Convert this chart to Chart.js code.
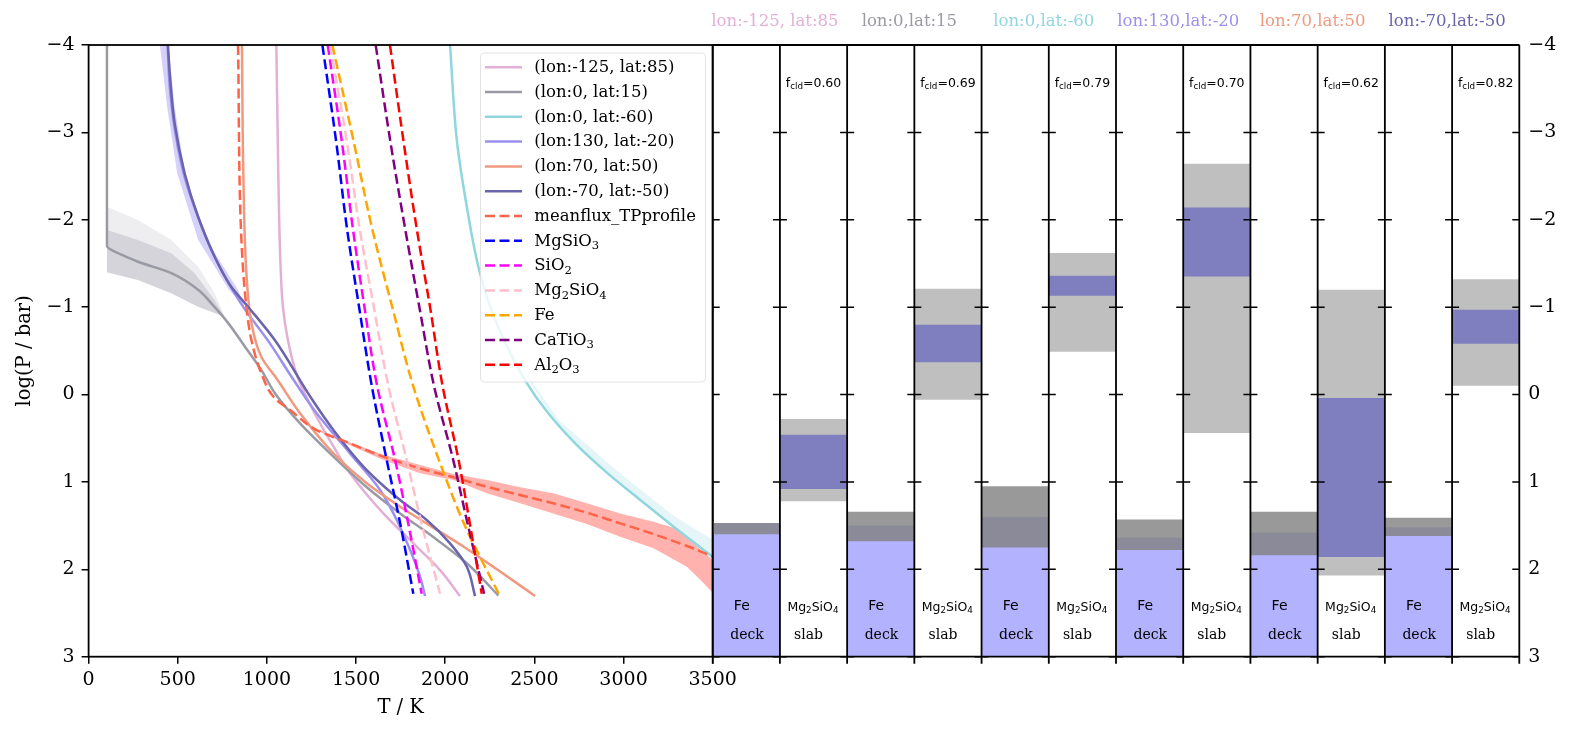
<!DOCTYPE html>
<html>
<head>
<meta charset="utf-8">
<script src="https://cdn.jsdelivr.net/npm/chart.js@4.4.1/dist/chart.umd.min.js"></script>
<style>
  html, body { margin: 0; padding: 0; background: #fff; }
  #wrap { position: relative; width: 1573px; height: 736px; overflow: hidden; }
  canvas { position: absolute; top: 0; }
  #tp { left: 0; }
  #cl { left: 700px; }
</style>
</head>
<body>
<div id="wrap">
  <canvas id="tp" width="780" height="736"></canvas>
  <canvas id="cl" width="873" height="736"></canvas>
</div>
<script>
// T-P profiles (left) and cloud deck / slab ranges (right)
const SERIF = 'DejaVu Serif';
const SANS = 'DejaVu Sans';

// Locations
const locLabels = ['(lon:-125, lat:85)', '(lon:0, lat:15)', '(lon:0, lat:-60)',
                   '(lon:130, lat:-20)', '(lon:70, lat:50)', '(lon:-70, lat:-50)'];
const topLabels = ['lon:-125, lat:85', 'lon:0,lat:15', 'lon:0,lat:-60',
                   'lon:130,lat:-20', 'lon:70,lat:50', 'lon:-70,lat:-50'];
const locColors = ['#e2b0d6', '#9a9aa4', '#8fd6de', '#9b90ee', '#ef9a80', '#6a64ac'];

// Profiles: log(P / bar) and T / K
const prof0P = [-4, -2.5, -1.5, -1.0, -0.62, -0.24, 0.0, 0.3, 0.6, 0.9, 1.36, 1.74, 2.01, 2.306];
const prof0T = [1053, 1064, 1076, 1090, 1118, 1165, 1215, 1290, 1375, 1466, 1653, 1840, 1971, 2083];

const prof1P = [-4, -1.70, -1.60, -1.52, -1.39, -1.20, -1.00, -0.82, -0.55, -0.28, 0.0, 0.33, 0.71, 1.06, 1.36, 1.63, 1.93, 2.30];
const prof1T = [103, 103, 184, 277, 464, 614, 707, 782, 876, 969, 1050, 1186, 1373, 1560, 1747, 1933, 2121, 2298];

const prof2P = [-4, -2.913, -2.15, -1.388, -0.815, -0.166, 0.215, 0.597, 0.902, 1.207, 1.513, 1.894];
const prof2T = [2027, 2065, 2121, 2195, 2288, 2447, 2578, 2747, 2911, 3094, 3281, 3524];

const prof3P = [-4, -3.5, -3.0, -2.5, -2.0, -1.5, -1.0, -0.6, -0.166, 0.215, 0.673, 1.09, 1.436, 1.78, 2.085, 2.306];
const prof3T = [443, 456, 486, 537, 620, 725, 868, 1012, 1150, 1279, 1466, 1634, 1728, 1803, 1859, 1887];

const prof4P = [-4, -2.5, -1.39, -0.82, -0.43, -0.166, 0.215, 0.673, 1.016, 1.284, 1.50, 1.75, 2.0, 2.306];
const prof4T = [860, 868, 885, 913, 969, 1060, 1186, 1373, 1560, 1747, 1915, 2110, 2290, 2504];

const prof5P = [-4, -3.68, -3.10, -2.53, -2.035, -1.577, -1.234, -1.005, -0.624, 0.043, 0.406, 0.864, 1.207, 1.436, 1.703, 1.97, 2.306];
const prof5T = [445, 455, 483, 539, 614, 707, 800, 894, 1044, 1249, 1373, 1560, 1747, 1896, 2027, 2121, 2167];

const meanP = [-4, -1.77, -1.0, -0.624, -0.243, 0.043, 0.177, 0.406, 0.558, 0.711, 0.845, 0.947, 1.055, 1.15, 1.245, 1.352, 1.474, 1.596, 1.733, 1.856];
const meanT = [838, 857, 885, 913, 969, 1044, 1130, 1279, 1466, 1653, 1859, 2046, 2233, 2420, 2606, 2794, 2981, 3168, 3355, 3504];

// Condensation curves
const condP = [-4, -2.9, -1.9, -1.0, -0.1, 0.75, 1.5, 2.28];
const condMgSiO3 = [1311, 1388, 1449, 1517, 1588, 1672, 1750, 1821];
const condSiO2 = [1341, 1420, 1482, 1547, 1618, 1719, 1795, 1868];
const condMg2SiO4 = [1354, 1448, 1520, 1600, 1681, 1784, 1870, 1971];
const condFe = [1367, 1486, 1590, 1703, 1820, 1965, 2110, 2300];
const condCaTiO3 = [1610, 1692, 1775, 1855, 1937, 2045, 2128, 2218];
const condAl2O3 = [1690, 1766, 1840, 1915, 1985, 2075, 2140, 2205];

// Spread bands (outline polygons)
const band1LightP = [-2.15, -1.997, -1.768, -1.463, -1.158, -0.89, -1.005, -1.158, -1.31, -1.399];
const band1LightT = [103, 277, 464, 614, 707, 763, 614, 464, 277, 103];
const band1DarkP = [-1.883, -1.768, -1.616, -1.387, -1.08, -0.89, -1.005, -1.158, -1.31, -1.399];
const band1DarkT = [103, 277, 464, 595, 707, 763, 614, 464, 277, 103];
const band3P = [-4, -3.3, -2.53, -1.77, -1.2, -1.0, -1.2, -1.77, -2.53, -3.3, -4];
const band3T = [400, 440, 497, 614, 787, 876, 838, 660, 541, 482, 448];
const band2P = [-0.5, 0.3, 0.9, 1.4, 1.665, 1.9, 1.5, 1.2, 0.9, 0.6, 0.3, -0.5];
const band2T = [2365, 2640, 2980, 3290, 3504, 3504, 3273, 3090, 2910, 2748, 2615, 2360];
const meanBandP = [0.40, 0.55, 0.69, 0.807, 0.91, 0.978, 1.062, 1.13, 1.245, 1.36, 1.455, 1.57, 1.703,
                   2.275, 2.12, 1.97, 1.76, 1.627, 1.482, 1.36, 1.245, 1.13, 0.978, 0.902, 0.75, 0.58, 0.42];
const meanBandT = [1290, 1466, 1653, 1859, 2046, 2233, 2420, 2606, 2794, 2981, 3168, 3355, 3504,
                   3504, 3430, 3355, 3168, 2981, 2794, 2606, 2420, 2233, 2046, 1859, 1653, 1466, 1290];

// Right panel: cloud layers per location, log(P / bar)
const deckTop = [1.47, 1.50, 1.40, 1.64, 1.58, 1.52];
const deckGrayTop = [1.47, 1.34, 1.05, 1.43, 1.34, 1.41];
const deckGrayBot = [1.60, 1.68, 1.75, 1.78, 1.84, 1.62];
const slabGrayTop = [0.28, -1.21, -1.62, -2.64, -1.20, -1.32];
const slabGrayBot = [1.22, 0.06, -0.49, 0.44, 2.07, -0.10];
const slabBlueTop = [0.46, -0.80, -1.36, -2.14, 0.04, -0.97];
const slabBlueBot = [1.08, -0.37, -1.13, -1.35, 1.86, -0.58];
const fcld = [0.60, 0.69, 0.79, 0.70, 0.62, 0.82];
const pBottom = 3;

// ---------- helpers ----------
function pts(P, T) {
    return P.map((p, i) => ({ x: T[i], y: p }));
}

function richParts(str) {
    const parts = [];
    const re = /_\{([^}]*)\}/g;
    let last = 0, m;
    while ((m = re.exec(str))) {
        if (m.index > last) parts.push({ t: str.slice(last, m.index), sub: false });
        parts.push({ t: m[1], sub: true });
        last = re.lastIndex;
    }
    if (last < str.length) parts.push({ t: str.slice(last), sub: false });
    return parts;
}

function drawRich(ctx, str, x, y, size, family, align) {
    const parts = richParts(str);
    let total = 0;
    parts.forEach(p => {
        ctx.font = (p.sub ? size * 0.7 : size) + 'px "' + family + '"';
        p.w = ctx.measureText(p.t).width;
        total += p.w;
    });
    let cx = align === 'center' ? x - total / 2 : x;
    ctx.textAlign = 'left';
    ctx.textBaseline = 'middle';
    parts.forEach(p => {
        ctx.font = (p.sub ? size * 0.7 : size) + 'px "' + family + '"';
        ctx.fillText(p.t, cx, p.sub ? y + size * 0.28 : y);
        cx += p.w;
    });
}

const minus = v => (v < 0 ? '\u2212' : '') + Math.abs(v);

// ---------- left chart datasets ----------
const lineSets = [];
const profP = [prof0P, prof1P, prof2P, prof3P, prof4P, prof5P];
const profT = [prof0T, prof1T, prof2T, prof3T, prof4T, prof5T];
locLabels.forEach((lab, i) => {
    lineSets.push({ label: lab, data: pts(profP[i], profT[i]), borderColor: locColors[i], dash: [] });
});
lineSets.push({ label: 'meanflux_TPprofile', data: pts(meanP, meanT), borderColor: '#ff6347', dash: [10, 4.5] });
const conds = [
    ['MgSiO_{3}', condMgSiO3, 'blue'],
    ['SiO_{2}', condSiO2, 'magenta'],
    ['Mg_{2}SiO_{4}', condMg2SiO4, 'pink'],
    ['Fe', condFe, 'orange'],
    ['CaTiO_{3}', condCaTiO3, 'purple'],
    ['Al_{2}O_{3}', condAl2O3, 'red']
];
conds.forEach(c => {
    lineSets.push({ label: c[0], data: pts(condP, c[1]), borderColor: c[2], dash: [10, 4.5] });
});

const datasets = lineSets.map((s, i) => ({
    label: s.label,
    data: s.data,
    borderColor: s.borderColor,
    borderDash: s.dash,
    borderWidth: 2.5,
    fill: false,
    cubicInterpolationMode: 'monotone',
    pointRadius: 0,
    order: 100 - i,
    inLegend: true
}));

function band(P, T, color) {
    return {
        label: '', data: pts(P, T), borderColor: 'transparent', borderWidth: 0,
        backgroundColor: color, fill: 'shape', tension: 0, pointRadius: 0, order: 300
    };
}
datasets.push(band(band1LightP, band1LightT, '#eeeef1'));
datasets.push(Object.assign(band(band1DarkP, band1DarkT, '#d4d4da'), { order: 299 }));
datasets.push(band(band3P, band3T, '#d5d1fa'));
datasets.push(band(band2P, band2T, '#e6f6f8'));
datasets.push(band(meanBandP, meanBandT, '#ffb2ae'));

// frame + legend for left panel
const leftFrame = {
    id: 'leftFrame',
    afterDraw(chart) {
        const { ctx, chartArea: a } = chart;
        ctx.save();
        // legend
        const lx = 480.5, ly = 53, lw = 225, lh = 329, r = 4;
        ctx.beginPath();
        ctx.moveTo(lx + r, ly);
        ctx.arcTo(lx + lw, ly, lx + lw, ly + lh, r);
        ctx.arcTo(lx + lw, ly + lh, lx, ly + lh, r);
        ctx.arcTo(lx, ly + lh, lx, ly, r);
        ctx.arcTo(lx, ly, lx + lw, ly, r);
        ctx.closePath();
        ctx.fillStyle = 'rgba(255,255,255,0.8)';
        ctx.fill();
        ctx.strokeStyle = 'rgba(220,220,220,0.8)';
        ctx.lineWidth = 1;
        ctx.stroke();
        chart.data.datasets.filter(d => d.inLegend).forEach((d, k) => {
            const yy = 67.7 + k * 24.8;
            ctx.beginPath();
            ctx.setLineDash(d.borderDash || []);
            ctx.strokeStyle = d.borderColor;
            ctx.lineWidth = 2.5;
            ctx.moveTo(485, yy - 0.5);
            ctx.lineTo(522, yy - 0.5);
            ctx.stroke();
            ctx.setLineDash([]);
            ctx.fillStyle = '#000';
            drawRich(ctx, d.label, 534.3, yy, 16.5, SERIF, 'left');
        });
        // axes frame
        ctx.strokeStyle = '#000';
        ctx.lineWidth = 1.8;
        ctx.strokeRect(a.left, a.top, a.right - a.left, a.bottom - a.top);
        ctx.restore();
    }
};

new Chart(document.getElementById('tp'), {
    type: 'line',
    data: { datasets },
    options: {
        indexAxis: 'y',
        responsive: false,
        animation: false,
        devicePixelRatio: 1,
        layout: { padding: { left: 0, top: 45, right: 67.3, bottom: 0 } },
        plugins: { legend: { display: false }, tooltip: { enabled: false } },
        scales: {
            x: {
                type: 'linear', position: 'bottom', min: 0, max: 3500,
                ticks: { stepSize: 500, color: '#000', font: { family: SERIF, size: 19 }, padding: 5, maxRotation: 0,
                         callback: v => String(v) },
                grid: { drawOnChartArea: false, color: '#000', lineWidth: 1.5, tickLength: 7 },
                border: { display: false },
                title: { display: true, text: 'T / K', color: '#000', font: { family: SERIF, size: 19.5 }, padding: { top: 0, bottom: 16 } },
                afterFit: s => { s.height = 79.3; }
            },
            y: {
                type: 'linear', position: 'left', min: -4, max: 3, reverse: true,
                ticks: { stepSize: 1, color: '#000', font: { family: SERIF, size: 19 }, padding: 7, callback: minus },
                grid: { drawOnChartArea: false, color: '#000', lineWidth: 1.5, tickLength: 7 },
                border: { display: false },
                title: { display: true, text: 'log(P / bar)', color: '#000', font: { family: SERIF, size: 19.5 }, padding: { top: 13, bottom: 0 } },
                afterFit: s => { s.width = 88.6; }
            }
        }
    },
    plugins: [leftFrame]
});

// ---------- right chart: cloud columns ----------
const nCol = deckTop.length * 2;
const colIdx = [...Array(nCol).keys()];
const colLabels = colIdx.map(i => (i % 2 ? 'slab' : 'deck'));
const pick = (i, deck, f) => ((i % 2 === 0) === deck ? f(i >> 1) : null);

const barSets = [
    { label: 'deck spread', data: colIdx.map(i => pick(i, true, k => [deckGrayTop[k], deckGrayBot[k]])), backgroundColor: 'rgba(128,128,128,0.8)', order: 1 },
    { label: 'deck', data: colIdx.map(i => pick(i, true, k => [deckTop[k], pBottom])), backgroundColor: 'rgba(0,0,255,0.3)', order: 2 },
    { label: 'slab', data: colIdx.map(i => pick(i, false, k => [slabBlueTop[k], slabBlueBot[k]])), backgroundColor: '#7f7fbf', order: 1 },
    { label: 'slab spread', data: colIdx.map(i => pick(i, false, k => [slabGrayTop[k], slabGrayBot[k]])), backgroundColor: '#bfbfbf', order: 2 }
].map(d => Object.assign(d, { borderWidth: 0, grouped: false, barPercentage: 1, categoryPercentage: 1, inflateAmount: 0 }));

const columnPlugin = {
    id: 'columns',
    afterDraw(chart) {
        const { ctx, chartArea: a, scales: { x, y } } = chart;
        const w = (a.right - a.left) / nCol;
        ctx.save();
        ctx.strokeStyle = '#000';
        ctx.lineWidth = 1.8;
        ctx.beginPath();
        ctx.moveTo(a.left, a.top); ctx.lineTo(a.right, a.top);
        ctx.moveTo(a.left, a.bottom); ctx.lineTo(a.right, a.bottom);
        for (let i = 0; i <= nCol; i++) {
            const bx = a.left + i * w;
            ctx.moveTo(bx, a.top);
            ctx.lineTo(bx, a.bottom + 7);
        }
        ctx.stroke();
        ctx.lineWidth = 1.5;
        ctx.beginPath();
        y.ticks.forEach(t => {
            const py = y.getPixelForValue(t.value);
            for (let i = 0; i <= nCol; i++) {
                const bx = a.left + i * w;
                ctx.moveTo(i > 0 ? bx - 7 : bx, py);
                ctx.lineTo(i < nCol ? bx + 7 : bx, py);
            }
        });
        ctx.stroke();

        ctx.fillStyle = '#000';
        colIdx.forEach(i => {
            const cx = x.getPixelForValue(i);
            if (i % 2 === 0) {
                drawRich(ctx, 'Fe', cx - 4.5, 606.7, 14, SANS, 'center');
                drawRich(ctx, 'deck', cx + 0.7, 635, 14, SERIF, 'center');
            } else {
                drawRich(ctx, 'f_{cld}=' + fcld[i >> 1].toFixed(2), cx, 83.3, 12.5, SANS, 'center');
                drawRich(ctx, 'Mg_{2}SiO_{4}', cx - 0.6, 607.5, 12.5, SANS, 'center');
                drawRich(ctx, 'slab', cx - 5, 635, 14, SERIF, 'center');
            }
        });
        topLabels.forEach((t, k) => {
            ctx.fillStyle = locColors[k];
            drawRich(ctx, t, a.left + (2 * k + 1) * w - 5, 21.7, 16.5, SERIF, 'center');
        });
        ctx.restore();
    }
};

new Chart(document.getElementById('cl'), {
    type: 'bar',
    data: { labels: colLabels, datasets: barSets },
    options: {
        responsive: false,
        animation: false,
        devicePixelRatio: 1,
        layout: { padding: { left: 12.7, top: 45, right: 0, bottom: 79.3 } },
        plugins: { legend: { display: false }, tooltip: { enabled: false } },
        scales: {
            x: { display: false },
            y: {
                type: 'linear', position: 'right', min: -4, max: 3, reverse: true,
                ticks: { stepSize: 1, color: '#000', font: { family: SERIF, size: 19 }, padding: 9, callback: minus },
                grid: { display: false, drawTicks: false },
                border: { display: false },
                afterFit: s => { s.width = 53.7; }
            }
        }
    },
    plugins: [columnPlugin]
});
</script>
</body>
</html>
